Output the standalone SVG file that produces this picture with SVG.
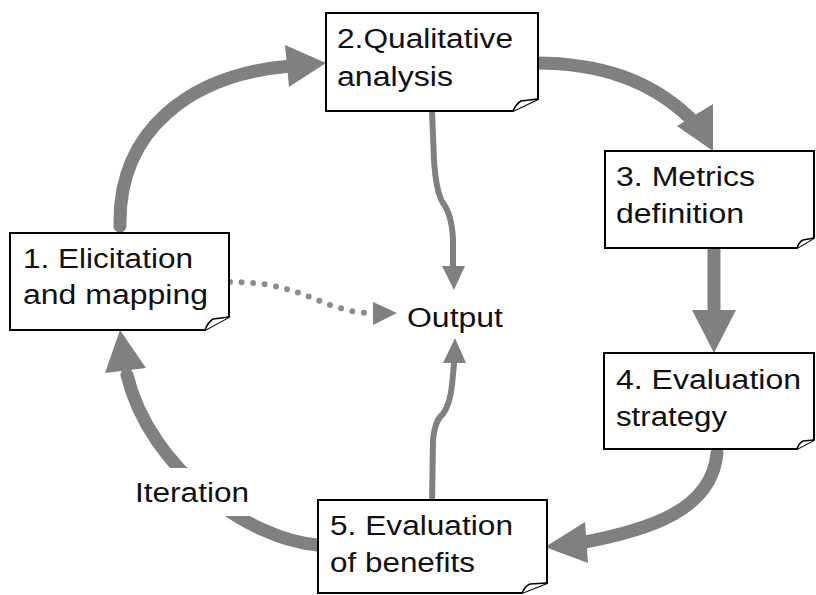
<svg xmlns="http://www.w3.org/2000/svg" width="816" height="595" viewBox="0 0 816 595">
<style>
.box{fill:#fff;stroke:#000;stroke-width:2}
.fold{fill:#fff;stroke:#000;stroke-width:1.5;stroke-linejoin:round}
.t{font-family:"Liberation Sans",Arial,sans-serif;font-size:27px;fill:#111}
.thick{fill:none;stroke:#808080;stroke-width:13;stroke-linecap:round}
.thin{fill:none;stroke:#808080;stroke-width:6;stroke-linecap:round;stroke-linejoin:round}
.dot{fill:none;stroke:#8c8c8c;stroke-width:6;stroke-linecap:round;stroke-dasharray:0 11.5}
.head{fill:#808080}
</style>
<rect width="816" height="595" fill="#fff"/>
<g id="connectors">
  <path class="thick" d="M120,226 C118,130 190,75 290,66"/>
  <polygon class="head" points="285,45 289,87 326,63"/>
  <path class="thick" d="M535,63 C600,63 650,80 690,118"/>
  <polygon class="head" points="677,126 713,104 713,151"/>
  <path class="thick" d="M714,250 L714,312"/>
  <polygon class="head" points="692,310 736,310 714,353"/>
  <path class="thick" d="M717,453 C712,510 650,530 580,543"/>
  <polygon class="head" points="585,522 588,563 545,547"/>
  <path class="thick" d="M318,545 C250,540 150,470 127,375"/>
  <polygon class="head" points="105,373 146,368 120,330"/>
  <rect x="130" y="468" width="125" height="48" fill="#fff"/>
  <path class="thin" d="M432,111 L434,160 Q436,192 443,203 Q452,215 453,240 L453,268"/>
  <polygon class="head" points="442,266 465,266 454,290"/>
  <path class="thin" d="M432,502 L433,440 Q435,420 443,414 Q450,404 452,385 L454,364"/>
  <polygon class="head" points="443,363 466,363 455,338"/>
  <path class="dot" d="M230,282 C290,282 310,300 340,308 C350,311 360,313 368,313"/>
  <polygon class="head" points="373,302 373,325 397,313"/>
</g>
<g id="n1">
  <path class="box" d="M10,233 L229,233 L229,317 L205,330 L10,330 Z"/>
  <path class="fold" d="M205,330 Q208,322 213,319 L229,317"/>
  <text class="t" x="23" y="268" textLength="170" lengthAdjust="spacingAndGlyphs">1. Elicitation</text>
  <text class="t" x="23" y="304" textLength="185" lengthAdjust="spacingAndGlyphs">and mapping</text>
</g>
<g id="n2">
  <path class="box" d="M326,13 L538,13 L538,99 L513,111 L326,111 Z"/>
  <path class="fold" d="M513,111 Q516,104 521,101 L538,99"/>
  <text class="t" x="337" y="48" textLength="176" lengthAdjust="spacingAndGlyphs">2.Qualitative</text>
  <text class="t" x="337" y="86" textLength="116" lengthAdjust="spacingAndGlyphs">analysis</text>
</g>
<g id="n3">
  <path class="box" d="M605,151 L814,151 L814,238 L797,248 L605,248 Z"/>
  <path class="fold" d="M797,248 Q799,242 803,240 L814,238"/>
  <text class="t" x="616" y="186" textLength="139" lengthAdjust="spacingAndGlyphs">3. Metrics</text>
  <text class="t" x="616" y="223" textLength="128" lengthAdjust="spacingAndGlyphs">definition</text>
</g>
<g id="n4">
  <path class="box" d="M604,353 L814,353 L814,440 L797,449 L604,449 Z"/>
  <path class="fold" d="M797,449 Q799,443 803,441 L814,440"/>
  <text class="t" x="616" y="389" textLength="185" lengthAdjust="spacingAndGlyphs">4. Evaluation</text>
  <text class="t" x="616" y="426" textLength="111" lengthAdjust="spacingAndGlyphs">strategy</text>
</g>
<g id="n5">
  <path class="box" d="M318,500 L547,500 L547,583 L522,593 L318,593 Z"/>
  <path class="fold" d="M522,593 Q525,586 530,584 L547,583"/>
  <text class="t" x="330" y="535" textLength="183" lengthAdjust="spacingAndGlyphs">5. Evaluation</text>
  <text class="t" x="330" y="572" textLength="145" lengthAdjust="spacingAndGlyphs">of benefits</text>
</g>
<g id="output">
  <text class="t" x="407" y="327" textLength="96" lengthAdjust="spacingAndGlyphs">Output</text>
</g>
<g id="iteration">
  <text class="t" x="135" y="502" textLength="114" lengthAdjust="spacingAndGlyphs">Iteration</text>
</g>
</svg>
